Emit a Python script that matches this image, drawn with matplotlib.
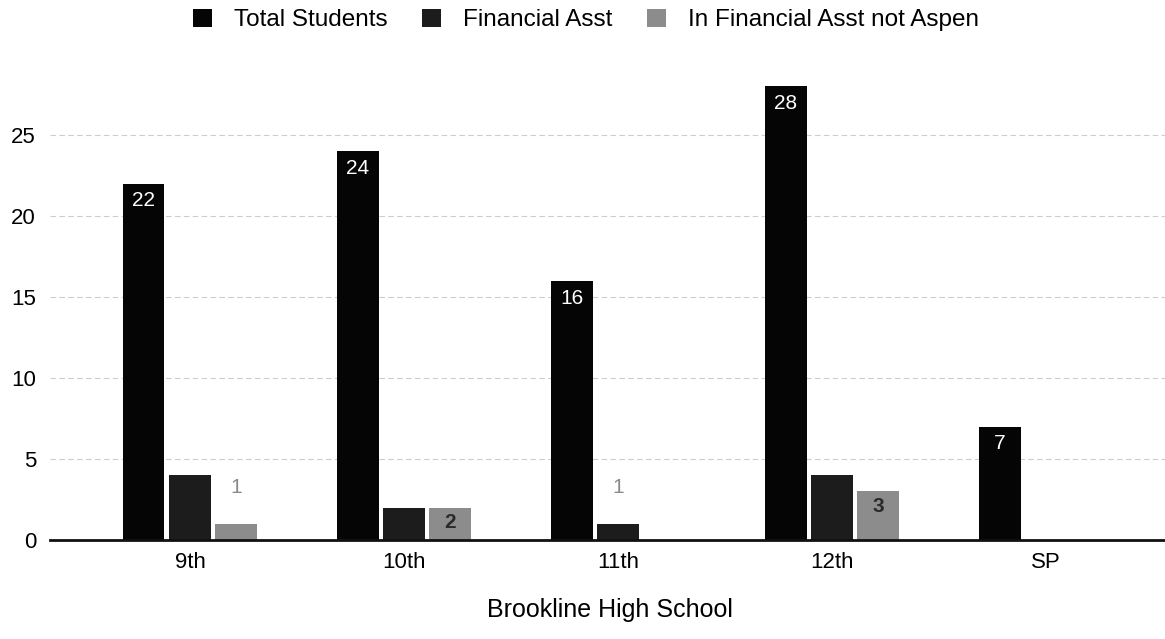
import matplotlib
matplotlib.use("Agg")
import matplotlib.pyplot as plt
import numpy as np

plt.rcParams['font.family'] = ['Liberation Sans', 'DejaVu Sans']

categories = ["9th", "10th", "11th", "12th", "SP"]
total_students = [22, 24, 16, 28, 7]
financial_asst = [4, 2, 1, 4, 0]
in_fa_not_aspen = [1, 2, 0, 3, 0]
series_names = ["Total Students", "Financial Asst", "In Financial Asst not Aspen"]
yticks = [0, 5, 10, 15, 20, 25]
xlabel = "Brookline High School"

# which bars carry a data label
total_labels = ["22", "24", "16", "28", "7"]
fa_labels = [None, None, "1", None, None]
ifana_labels = ["1", "2", None, "3", None]

colors = ["#050505", "#1c1c1c", "#8c8c8c"]

fig = plt.figure(figsize=(11.65, 6.39), dpi=100)
ax = fig.add_axes([50/1165, 1 - 540/639, 1 - 50/1165, 469.8/639])

x = np.arange(len(categories))
w = 0.196
off = 0.217
series = [total_students, financial_asst, in_fa_not_aspen]
labels = [total_labels, fa_labels, ifana_labels]
ylim_top = 29.0

for k, (vals, labs) in enumerate(zip(series, labels)):
    xs = x + (k - 1) * off
    ax.bar(xs, vals, width=w, color=colors[k], label=series_names[k], zorder=3)
    for xi, v, lab in zip(xs, vals, labs):
        if lab is None:
            continue
        if k == 0:
            ax.annotate(lab, (xi, v), xytext=(0, -12.5), textcoords="offset points",
                        ha="center", va="center", color="white", fontsize=15, zorder=4)
        elif v >= 2:
            ax.annotate(lab, (xi, v), xytext=(0, -11), textcoords="offset points",
                        ha="center", va="center", color="#2a2a2a", fontsize=15,
                        fontweight="bold", zorder=4)
        else:
            ax.annotate(lab, (xi, v), xytext=(0, 26), textcoords="offset points",
                        ha="center", va="center", color="#8a8a8a", fontsize=15, zorder=4)

ax.set_xlim(-0.654, 4.556)
ax.set_ylim(0, ylim_top)
ax.set_xticks(x)
ax.set_xticklabels(categories, fontsize=16)
ax.set_yticks(yticks)
ax.set_yticklabels([str(t) for t in yticks], fontsize=16)
ax.tick_params(axis="both", length=0)
ax.tick_params(axis="y", pad=10)
ax.tick_params(axis="x", pad=9)

for s in ["top", "right", "left"]:
    ax.spines[s].set_visible(False)
ax.spines["bottom"].set_color("#111111")
ax.spines["bottom"].set_linewidth(2)
ax.spines["bottom"].set_zorder(5)

for t in yticks[1:]:
    ax.axhline(t, color="#cdcdcd", lw=0.8, ls=(0, (5, 3)), zorder=1)

fig.text(610/1165, 1 - 610/639, xlabel, ha="center", va="center", fontsize=18)

fig.legend(loc="center", bbox_to_anchor=(586/1165, 1 - 20/639), ncol=3,
           frameon=False, fontsize=17.5, handlelength=0.8, handleheight=0.8,
           columnspacing=1.4, handletextpad=0.9)

fig.savefig("out.png", dpi=100)
